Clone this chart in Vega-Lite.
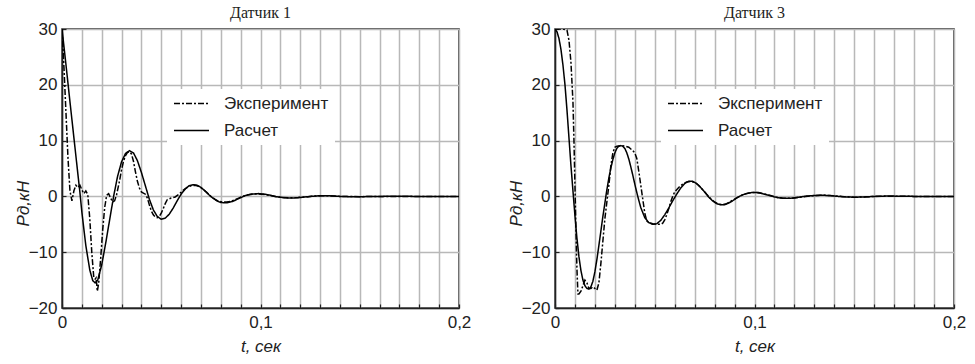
{
  "$schema": "https://vega.github.io/schema/vega-lite/v6.json",
  "background": "white",
  "padding": {"left": 13, "top": 4, "right": 5, "bottom": 5},
  "spacing": 34,
  "datasets": {
    "d1": [
      {"s":"Расчет","t":0,"v":30},{"s":"Расчет","t":0.002,"v":23.6},{"s":"Расчет","t":0.004,"v":17},{"s":"Расчет","t":0.006,"v":10.5},{"s":"Расчет","t":0.008,"v":4},{"s":"Расчет","t":0.009,"v":0.8},{"s":"Расчет","t":0.010,"v":-2.8},{"s":"Расчет","t":0.012,"v":-8.8},{"s":"Расчет","t":0.014,"v":-13.2},{"s":"Расчет","t":0.0155,"v":-15.1},{"s":"Расчет","t":0.0167,"v":-15.5},{"s":"Расчет","t":0.018,"v":-15},{"s":"Расчет","t":0.020,"v":-12.3},{"s":"Расчет","t":0.022,"v":-8.4},{"s":"Расчет","t":0.024,"v":-4.2},{"s":"Расчет","t":0.026,"v":0},{"s":"Расчет","t":0.028,"v":3.6},{"s":"Расчет","t":0.030,"v":6.2},{"s":"Расчет","t":0.032,"v":7.7},{"s":"Расчет","t":0.034,"v":8.2},{"s":"Расчет","t":0.036,"v":7.8},{"s":"Расчет","t":0.038,"v":6.4},{"s":"Расчет","t":0.040,"v":4.3},{"s":"Расчет","t":0.042,"v":1.9},{"s":"Расчет","t":0.044,"v":-0.5},{"s":"Расчет","t":0.046,"v":-2.4},{"s":"Расчет","t":0.048,"v":-3.6},{"s":"Расчет","t":0.050,"v":-4.1},{"s":"Расчет","t":0.052,"v":-3.9},{"s":"Расчет","t":0.054,"v":-3.2},{"s":"Расчет","t":0.056,"v":-2.1},{"s":"Расчет","t":0.058,"v":-0.8},{"s":"Расчет","t":0.060,"v":0.4},{"s":"Расчет","t":0.062,"v":1.3},{"s":"Расчет","t":0.064,"v":1.9},{"s":"Расчет","t":0.066,"v":2.1},{"s":"Расчет","t":0.068,"v":2.0},{"s":"Расчет","t":0.070,"v":1.6},{"s":"Расчет","t":0.072,"v":1.0},{"s":"Расчет","t":0.074,"v":0.3},{"s":"Расчет","t":0.076,"v":-0.3},{"s":"Расчет","t":0.078,"v":-0.8},{"s":"Расчет","t":0.080,"v":-1.1},{"s":"Расчет","t":0.083,"v":-1.15},{"s":"Расчет","t":0.086,"v":-0.9},{"s":"Расчет","t":0.089,"v":-0.4},{"s":"Расчет","t":0.092,"v":0.1},{"s":"Расчет","t":0.095,"v":0.4},{"s":"Расчет","t":0.099,"v":0.5},{"s":"Расчет","t":0.102,"v":0.4},{"s":"Расчет","t":0.105,"v":0.2},{"s":"Расчет","t":0.108,"v":-0.05},{"s":"Расчет","t":0.112,"v":-0.25},{"s":"Расчет","t":0.116,"v":-0.3},{"s":"Расчет","t":0.120,"v":-0.2},{"s":"Расчет","t":0.125,"v":0.0},{"s":"Расчет","t":0.130,"v":0.12},{"s":"Расчет","t":0.135,"v":0.1},{"s":"Расчет","t":0.140,"v":0.0},{"s":"Расчет","t":0.147,"v":-0.07},{"s":"Расчет","t":0.155,"v":-0.03},{"s":"Расчет","t":0.165,"v":0.02},{"s":"Расчет","t":0.180,"v":0},{"s":"Расчет","t":0.2,"v":0},
      {"s":"Эксперимент","t":0,"v":30},{"s":"Эксперимент","t":0.001,"v":23},{"s":"Эксперимент","t":0.002,"v":15},{"s":"Эксперимент","t":0.003,"v":7},{"s":"Эксперимент","t":0.004,"v":1},{"s":"Эксперимент","t":0.005,"v":-0.8},{"s":"Эксперимент","t":0.006,"v":1.0},{"s":"Эксперимент","t":0.007,"v":2.0},{"s":"Эксперимент","t":0.008,"v":1.6},{"s":"Эксперимент","t":0.009,"v":2.0},{"s":"Эксперимент","t":0.010,"v":1.2},{"s":"Эксперимент","t":0.011,"v":0.5},{"s":"Эксперимент","t":0.012,"v":1.0},{"s":"Эксперимент","t":0.013,"v":0.3},{"s":"Эксперимент","t":0.014,"v":-4},{"s":"Эксперимент","t":0.015,"v":-10},{"s":"Эксперимент","t":0.016,"v":-14.5},{"s":"Эксперимент","t":0.0167,"v":-14.8},{"s":"Эксперимент","t":0.0172,"v":-14.6},{"s":"Эксперимент","t":0.0178,"v":-17},{"s":"Эксперимент","t":0.0185,"v":-15.5},{"s":"Эксперимент","t":0.0195,"v":-11},{"s":"Эксперимент","t":0.0205,"v":-6},{"s":"Эксперимент","t":0.0215,"v":-2},{"s":"Эксперимент","t":0.0225,"v":0.2},{"s":"Эксперимент","t":0.0235,"v":0.5},{"s":"Эксперимент","t":0.0245,"v":-0.3},{"s":"Эксперимент","t":0.0255,"v":-1.0},{"s":"Эксперимент","t":0.0265,"v":-0.8},{"s":"Эксперимент","t":0.0275,"v":0.3},{"s":"Эксперимент","t":0.029,"v":2.8},{"s":"Эксперимент","t":0.030,"v":4.8},{"s":"Эксперимент","t":0.031,"v":6.3},{"s":"Эксперимент","t":0.032,"v":7.3},{"s":"Эксперимент","t":0.033,"v":7.9},{"s":"Эксперимент","t":0.034,"v":8.0},{"s":"Эксперимент","t":0.035,"v":7.6},{"s":"Эксперимент","t":0.036,"v":6.3},{"s":"Эксперимент","t":0.037,"v":4.4},{"s":"Эксперимент","t":0.038,"v":2.7},{"s":"Эксперимент","t":0.039,"v":1.5},{"s":"Эксперимент","t":0.040,"v":0.8},{"s":"Эксперимент","t":0.041,"v":0.6},{"s":"Эксперимент","t":0.042,"v":0.4},{"s":"Эксперимент","t":0.043,"v":-0.3},{"s":"Эксперимент","t":0.044,"v":-1.5},{"s":"Эксперимент","t":0.045,"v":-2.6},{"s":"Эксперимент","t":0.046,"v":-3.3},{"s":"Эксперимент","t":0.047,"v":-3.7},{"s":"Эксперимент","t":0.048,"v":-3.8},{"s":"Эксперимент","t":0.049,"v":-3.6},{"s":"Эксперимент","t":0.050,"v":-3.0},{"s":"Эксперимент","t":0.051,"v":-2.2},{"s":"Эксперимент","t":0.052,"v":-1.3},{"s":"Эксперимент","t":0.053,"v":-0.6},{"s":"Эксперимент","t":0.055,"v":-0.3},{"s":"Эксперимент","t":0.057,"v":-0.1},{"s":"Эксперимент","t":0.059,"v":0.4},{"s":"Эксперимент","t":0.061,"v":1.1},{"s":"Эксперимент","t":0.063,"v":1.6},{"s":"Эксперимент","t":0.065,"v":1.9},{"s":"Эксперимент","t":0.067,"v":2.0},{"s":"Эксперимент","t":0.069,"v":1.8},{"s":"Эксперимент","t":0.071,"v":1.3},{"s":"Эксперимент","t":0.073,"v":0.7},{"s":"Эксперимент","t":0.075,"v":0.0},{"s":"Эксперимент","t":0.077,"v":-0.5},{"s":"Эксперимент","t":0.079,"v":-0.9},{"s":"Эксперимент","t":0.081,"v":-1.0},{"s":"Эксперимент","t":0.083,"v":-1.0},{"s":"Эксперимент","t":0.085,"v":-0.9},{"s":"Эксперимент","t":0.087,"v":-0.6},{"s":"Эксперимент","t":0.089,"v":-0.3},{"s":"Эксперимент","t":0.091,"v":0.0},{"s":"Эксперимент","t":0.093,"v":0.25},{"s":"Эксперимент","t":0.096,"v":0.4},{"s":"Эксперимент","t":0.099,"v":0.45},{"s":"Эксперимент","t":0.102,"v":0.35},{"s":"Эксперимент","t":0.105,"v":0.15},{"s":"Эксперимент","t":0.108,"v":-0.05},{"s":"Эксперимент","t":0.111,"v":-0.2},{"s":"Эксперимент","t":0.115,"v":-0.25},{"s":"Эксперимент","t":0.119,"v":-0.2},{"s":"Эксперимент","t":0.123,"v":-0.1},{"s":"Эксперимент","t":0.127,"v":0.05},{"s":"Эксперимент","t":0.131,"v":0.1},{"s":"Эксперимент","t":0.135,"v":0.1},{"s":"Эксперимент","t":0.140,"v":0.0},{"s":"Эксперимент","t":0.150,"v":-0.05},{"s":"Эксперимент","t":0.160,"v":0},{"s":"Эксперимент","t":0.2,"v":0}
    ],
    "d3": [
      {"s":"Расчет","t":0,"v":30},{"s":"Расчет","t":0.001,"v":29.5},{"s":"Расчет","t":0.002,"v":28.3},{"s":"Расчет","t":0.003,"v":26.3},{"s":"Расчет","t":0.004,"v":23.5},{"s":"Расчет","t":0.005,"v":20},{"s":"Расчет","t":0.006,"v":15.5},{"s":"Расчет","t":0.007,"v":10.5},{"s":"Расчет","t":0.008,"v":5.5},{"s":"Расчет","t":0.009,"v":1},{"s":"Расчет","t":0.010,"v":-3.5},{"s":"Расчет","t":0.011,"v":-7.5},{"s":"Расчет","t":0.012,"v":-10.8},{"s":"Расчет","t":0.013,"v":-13.3},{"s":"Расчет","t":0.014,"v":-15},{"s":"Расчет","t":0.015,"v":-16},{"s":"Расчет","t":0.016,"v":-16.5},{"s":"Расчет","t":0.017,"v":-16.6},{"s":"Расчет","t":0.018,"v":-16.2},{"s":"Расчет","t":0.019,"v":-15.2},{"s":"Расчет","t":0.020,"v":-13.5},{"s":"Расчет","t":0.021,"v":-11.3},{"s":"Расчет","t":0.022,"v":-8.8},{"s":"Расчет","t":0.023,"v":-6.2},{"s":"Расчет","t":0.024,"v":-3.6},{"s":"Расчет","t":0.025,"v":-1.2},{"s":"Расчет","t":0.026,"v":1.2},{"s":"Расчет","t":0.027,"v":3.3},{"s":"Расчет","t":0.028,"v":5.1},{"s":"Расчет","t":0.029,"v":6.6},{"s":"Расчет","t":0.030,"v":7.8},{"s":"Расчет","t":0.031,"v":8.6},{"s":"Расчет","t":0.032,"v":9.0},{"s":"Расчет","t":0.033,"v":9.1},{"s":"Расчет","t":0.034,"v":9.0},{"s":"Расчет","t":0.035,"v":8.6},{"s":"Расчет","t":0.036,"v":7.8},{"s":"Расчет","t":0.037,"v":6.7},{"s":"Расчет","t":0.038,"v":5.3},{"s":"Расчет","t":0.039,"v":3.8},{"s":"Расчет","t":0.040,"v":2.2},{"s":"Расчет","t":0.041,"v":0.7},{"s":"Расчет","t":0.042,"v":-0.7},{"s":"Расчет","t":0.043,"v":-2.0},{"s":"Расчет","t":0.045,"v":-3.8},{"s":"Расчет","t":0.047,"v":-4.7},{"s":"Расчет","t":0.049,"v":-5.0},{"s":"Расчет","t":0.051,"v":-4.9},{"s":"Расчет","t":0.053,"v":-4.3},{"s":"Расчет","t":0.055,"v":-3.3},{"s":"Расчет","t":0.057,"v":-2.1},{"s":"Расчет","t":0.059,"v":-0.8},{"s":"Расчет","t":0.061,"v":0.4},{"s":"Расчет","t":0.063,"v":1.5},{"s":"Расчет","t":0.065,"v":2.3},{"s":"Расчет","t":0.067,"v":2.7},{"s":"Расчет","t":0.069,"v":2.7},{"s":"Расчет","t":0.071,"v":2.3},{"s":"Расчет","t":0.073,"v":1.6},{"s":"Расчет","t":0.075,"v":0.8},{"s":"Расчет","t":0.077,"v":-0.1},{"s":"Расчет","t":0.079,"v":-0.8},{"s":"Расчет","t":0.081,"v":-1.3},{"s":"Расчет","t":0.083,"v":-1.5},{"s":"Расчет","t":0.085,"v":-1.5},{"s":"Расчет","t":0.087,"v":-1.2},{"s":"Расчет","t":0.089,"v":-0.8},{"s":"Расчет","t":0.091,"v":-0.3},{"s":"Расчет","t":0.093,"v":0.1},{"s":"Расчет","t":0.095,"v":0.4},{"s":"Расчет","t":0.097,"v":0.6},{"s":"Расчет","t":0.099,"v":0.7},{"s":"Расчет","t":0.101,"v":0.7},{"s":"Расчет","t":0.104,"v":0.5},{"s":"Расчет","t":0.107,"v":0.2},{"s":"Расчет","t":0.110,"v":-0.1},{"s":"Расчет","t":0.113,"v":-0.3},{"s":"Расчет","t":0.116,"v":-0.35},{"s":"Расчет","t":0.119,"v":-0.3},{"s":"Расчет","t":0.122,"v":-0.15},{"s":"Расчет","t":0.126,"v":0.05},{"s":"Расчет","t":0.130,"v":0.15},{"s":"Расчет","t":0.134,"v":0.2},{"s":"Расчет","t":0.138,"v":0.15},{"s":"Расчет","t":0.142,"v":0.0},{"s":"Расчет","t":0.146,"v":-0.1},{"s":"Расчет","t":0.150,"v":-0.15},{"s":"Расчет","t":0.155,"v":-0.1},{"s":"Расчет","t":0.160,"v":0.0},{"s":"Расчет","t":0.165,"v":0.05},{"s":"Расчет","t":0.170,"v":0.05},{"s":"Расчет","t":0.180,"v":0.0},{"s":"Расчет","t":0.2,"v":0},
      {"s":"Эксперимент","t":0,"v":30},{"s":"Эксперимент","t":0.002,"v":30},{"s":"Эксперимент","t":0.004,"v":30},{"s":"Эксперимент","t":0.006,"v":29.8},{"s":"Эксперимент","t":0.007,"v":28},{"s":"Эксперимент","t":0.008,"v":24},{"s":"Эксперимент","t":0.009,"v":17},{"s":"Эксперимент","t":0.0095,"v":10},{"s":"Эксперимент","t":0.010,"v":2},{"s":"Эксперимент","t":0.0105,"v":-6},{"s":"Эксперимент","t":0.011,"v":-13},{"s":"Эксперимент","t":0.0115,"v":-17.5},{"s":"Эксперимент","t":0.012,"v":-17.5},{"s":"Эксперимент","t":0.013,"v":-17},{"s":"Эксперимент","t":0.014,"v":-16},{"s":"Эксперимент","t":0.015,"v":-15},{"s":"Эксперимент","t":0.016,"v":-15.5},{"s":"Эксперимент","t":0.017,"v":-16.5},{"s":"Эксперимент","t":0.018,"v":-16.5},{"s":"Эксперимент","t":0.019,"v":-16.2},{"s":"Эксперимент","t":0.020,"v":-16.5},{"s":"Эксперимент","t":0.021,"v":-16.8},{"s":"Эксперимент","t":0.022,"v":-15.5},{"s":"Эксперимент","t":0.023,"v":-12},{"s":"Эксперимент","t":0.024,"v":-8},{"s":"Эксперимент","t":0.025,"v":-4},{"s":"Эксперимент","t":0.026,"v":-1},{"s":"Эксперимент","t":0.027,"v":2},{"s":"Эксперимент","t":0.028,"v":5.5},{"s":"Эксперимент","t":0.029,"v":7.8},{"s":"Эксперимент","t":0.030,"v":8.8},{"s":"Эксперимент","t":0.031,"v":9.0},{"s":"Эксперимент","t":0.033,"v":9.1},{"s":"Эксперимент","t":0.035,"v":9.0},{"s":"Эксперимент","t":0.037,"v":8.8},{"s":"Эксперимент","t":0.038,"v":8.5},{"s":"Эксперимент","t":0.039,"v":8.2},{"s":"Эксперимент","t":0.040,"v":7.8},{"s":"Эксперимент","t":0.041,"v":6.8},{"s":"Эксперимент","t":0.042,"v":4.5},{"s":"Эксперимент","t":0.043,"v":2},{"s":"Эксперимент","t":0.044,"v":-0.5},{"s":"Эксперимент","t":0.045,"v":-3},{"s":"Эксперимент","t":0.046,"v":-4.4},{"s":"Эксперимент","t":0.047,"v":-4.7},{"s":"Эксперимент","t":0.049,"v":-4.9},{"s":"Эксперимент","t":0.051,"v":-5.0},{"s":"Эксперимент","t":0.053,"v":-5.0},{"s":"Эксперимент","t":0.054,"v":-4.8},{"s":"Эксперимент","t":0.055,"v":-4.2},{"s":"Эксперимент","t":0.056,"v":-3.3},{"s":"Эксперимент","t":0.057,"v":-2.2},{"s":"Эксперимент","t":0.058,"v":-1.0},{"s":"Эксперимент","t":0.059,"v":0.0},{"s":"Эксперимент","t":0.060,"v":0.8},{"s":"Эксперимент","t":0.062,"v":1.6},{"s":"Эксперимент","t":0.064,"v":2.2},{"s":"Эксперимент","t":0.066,"v":2.6},{"s":"Эксперимент","t":0.068,"v":2.7},{"s":"Эксперимент","t":0.070,"v":2.5},{"s":"Эксперимент","t":0.072,"v":2.0},{"s":"Эксперимент","t":0.074,"v":1.2},{"s":"Эксперимент","t":0.076,"v":0.4},{"s":"Эксперимент","t":0.078,"v":-0.4},{"s":"Эксперимент","t":0.080,"v":-1.0},{"s":"Эксперимент","t":0.082,"v":-1.4},{"s":"Эксперимент","t":0.084,"v":-1.5},{"s":"Эксперимент","t":0.086,"v":-1.3},{"s":"Эксперимент","t":0.088,"v":-0.9},{"s":"Эксперимент","t":0.090,"v":-0.5},{"s":"Эксперимент","t":0.092,"v":-0.1},{"s":"Эксперимент","t":0.094,"v":0.3},{"s":"Эксперимент","t":0.096,"v":0.5},{"s":"Эксперимент","t":0.099,"v":0.7},{"s":"Эксперимент","t":0.102,"v":0.7},{"s":"Эксперимент","t":0.105,"v":0.45},{"s":"Эксперимент","t":0.108,"v":0.15},{"s":"Эксперимент","t":0.111,"v":-0.15},{"s":"Эксперимент","t":0.114,"v":-0.3},{"s":"Эксперимент","t":0.117,"v":-0.35},{"s":"Эксперимент","t":0.120,"v":-0.3},{"s":"Эксперимент","t":0.124,"v":-0.1},{"s":"Эксперимент","t":0.128,"v":0.1},{"s":"Эксперимент","t":0.132,"v":0.2},{"s":"Эксперимент","t":0.136,"v":0.2},{"s":"Эксперимент","t":0.140,"v":0.1},{"s":"Эксперимент","t":0.145,"v":-0.05},{"s":"Эксперимент","t":0.150,"v":-0.15},{"s":"Эксперимент","t":0.155,"v":-0.1},{"s":"Эксперимент","t":0.160,"v":0.0},{"s":"Эксперимент","t":0.170,"v":0.05},{"s":"Эксперимент","t":0.180,"v":0},{"s":"Эксперимент","t":0.2,"v":0}
    ]
  },
  "resolve": {"scale": {"strokeDash": "independent", "x": "independent", "y": "independent"}, "legend": {"strokeDash": "independent"}},
  "hconcat": [
    {
      "title": "Датчик 1",
      "width": 397, "height": 279,
      "data": {"name": "d1"},
      "mark": {"type": "line", "color": "black", "strokeWidth": 1.5, "clip": true},
      "encoding": {
        "x": {"field": "t", "type": "quantitative", "scale": {"domain": [0, 0.2], "nice": false, "zero": false},
              "axis": {"title": "t, сек", "values": [0,0.01,0.02,0.03,0.04,0.05,0.06,0.07,0.08,0.09,0.1,0.11,0.12,0.13,0.14,0.15,0.16,0.17,0.18,0.19,0.2],
                       "labelExpr": "datum.value==0 ? '0' : datum.value==0.1 ? '0,1' : datum.value==0.2 ? '0,2' : ''"}},
        "y": {"field": "v", "type": "quantitative", "scale": {"domain": [-20, 30], "nice": false},
              "axis": {"title": "Pд,кН", "values": [-20,-10,0,10,20,30]}},
        "strokeDash": {"field": "s", "type": "nominal",
                       "scale": {"domain": ["Эксперимент", "Расчет"], "range": [[6,2,2,2],[1,0]]},
                       "legend": {"orient": "none", "legendX": 105, "legendY": 60}}
      }
    },
    {
      "title": "Датчик 3",
      "width": 399, "height": 279,
      "data": {"name": "d3"},
      "mark": {"type": "line", "color": "black", "strokeWidth": 1.5, "clip": true},
      "encoding": {
        "x": {"field": "t", "type": "quantitative", "scale": {"domain": [0, 0.2], "nice": false, "zero": false},
              "axis": {"title": "t, сек", "values": [0,0.01,0.02,0.03,0.04,0.05,0.06,0.07,0.08,0.09,0.1,0.11,0.12,0.13,0.14,0.15,0.16,0.17,0.18,0.19,0.2],
                       "labelExpr": "datum.value==0 ? '0' : datum.value==0.1 ? '0,1' : datum.value==0.2 ? '0,2' : ''"}},
        "y": {"field": "v", "type": "quantitative", "scale": {"domain": [-20, 30], "nice": false},
              "axis": {"title": "Pд,кН", "values": [-20,-10,0,10,20,30]}},
        "strokeDash": {"field": "s", "type": "nominal",
                       "scale": {"domain": ["Эксперимент", "Расчет"], "range": [[6,2,2,2],[1,0]]},
                       "legend": {"orient": "none", "legendX": 106, "legendY": 60}}
      }
    }
  ],
  "config": {
    "font": "Liberation Sans",
    "view": {"stroke": "#222", "strokeWidth": 1.5},
    "axis": {
      "grid": true, "gridColor": "#b8b8b8", "gridWidth": 1.5,
      "domainColor": "#222", "domainWidth": 1.5,
      "ticks": true, "tickColor": "#222", "tickSize": -4, "tickWidth": 1.2,
      "labelFont": "Liberation Sans", "labelFontSize": 17, "labelColor": "#222", "labelFlush": false, "labelOverlap": false,
      "titleFont": "Liberation Sans", "titleFontSize": 17, "titleFontStyle": "italic", "titleFontWeight": "normal", "titleColor": "#222"
    },
    "axisY": {"titlePadding": -4, "labelPadding": 9, "titleY": 174},
    "axisX": {"titlePadding": 8, "labelPadding": 10},
    "title": {"font": "Liberation Serif", "fontSize": 16, "fontWeight": "normal", "color": "#222", "offset": -1},
    "legend": {
      "title": null, "fillColor": "white", "padding": 6,
      "symbolType": "stroke", "symbolSize": 1225, "symbolStrokeColor": "black", "symbolStrokeWidth": 1.5,
      "clipHeight": 17,
      "labelFont": "Liberation Sans", "labelFontSize": 17, "labelColor": "#222", "labelOffset": 14, "rowPadding": 9
    }
  }
}
